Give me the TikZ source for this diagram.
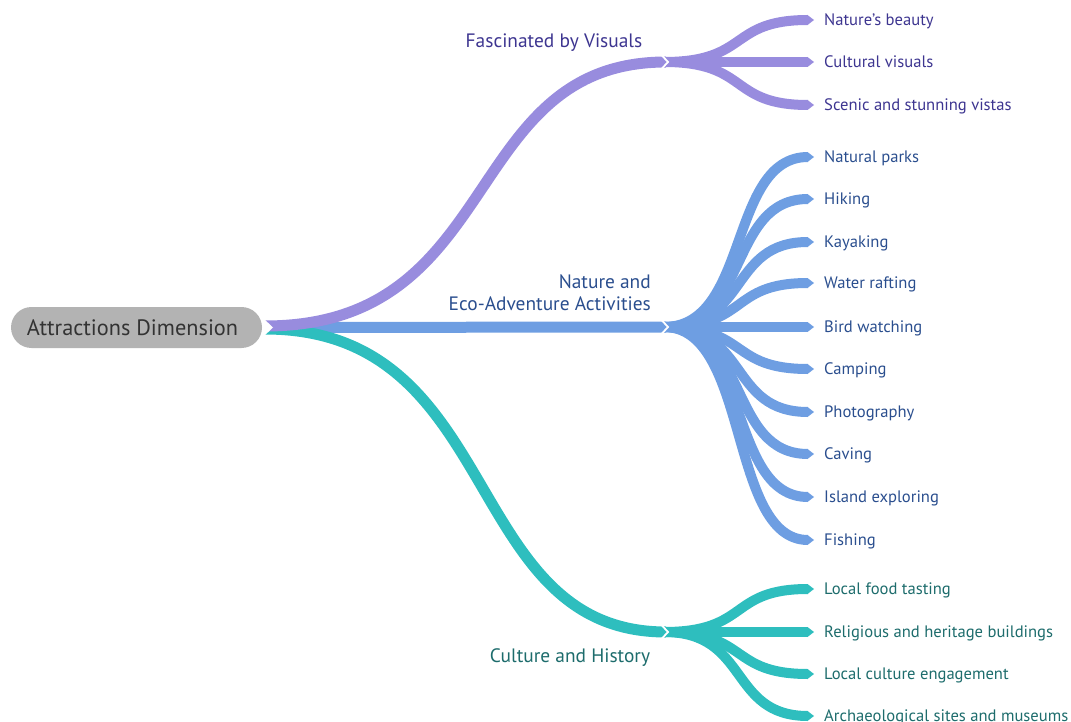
\documentclass[tikz,border=0pt]{standalone}
\usepackage{fontspec}
\setmainfont{PT Sans}
\usetikzlibrary{calc}
\definecolor{cP}{HTML}{988CDE}
\definecolor{cB}{HTML}{6E9EE2}
\definecolor{cT}{HTML}{2EBEBE}
\definecolor{tP}{HTML}{3D3590}
\definecolor{tB}{HTML}{2A4E8E}
\definecolor{tT}{HTML}{1D6C6C}
\definecolor{rootfill}{HTML}{B3B3B3}
\definecolor{roottext}{HTML}{333333}
\newcommand{\subbranch}[3]{%
  \draw[#1, line width=10pt] (#2) .. controls ($(#2)+(86,0)$) and ($(#3.west)+(-96,0)$) .. ($(#3.west)+(-16,0)$);
  \fill[#1] ($(#3.west)+(-16.5,-5)$) -- ($(#3.west)+(-10,0)$) -- ($(#3.west)+(-16.5,5)$) -- cycle;
}
\newcommand{\hubnotch}[1]{%
  \draw[white, line width=1.8pt] ($(#1)+(-2,-6.5)$) -- ($(#1)+(4,0)$) -- ($(#1)+(-2,6.5)$);
}
\begin{document}
\begin{tikzpicture}[x=1pt,y=-1pt,
  leaf/.style={anchor=west, inner sep=0pt, font=\fontsize{16.6}{19}\selectfont, text height=11.6pt, text depth=0pt},
  mlab/.style={inner sep=0pt, font=\fontsize{19.4}{22}\selectfont},
  rootnode/.style={fill=rootfill, text=roottext, rounded corners=20.5pt, minimum width=251pt, minimum height=41pt, inner sep=0pt, font=\fontsize{22.3}{26}\selectfont},
  mainbr/.style={line width=11pt}]
\useasboundingbox (0,0) rectangle (1071,722);

% root
\node[rootnode] (root) at (136.5,327.5) {\hspace*{-8pt}Attractions Dimension};

% coordinates
\coordinate (sP) at (265,326);
\coordinate (sB) at (265,327.5);
\coordinate (sT) at (265,329);
\coordinate (hv) at (664,62);
\coordinate (hn) at (664,327);
\coordinate (hc) at (664,632);

% leaves
\node[leaf, text=tP] (v1) at (824,20) {Nature's beauty};
\node[leaf, text=tP] (v2) at (824,62) {Cultural visuals};
\node[leaf, text=tP] (v3) at (824,105) {Scenic and stunning vistas};
\node[leaf, text=tB] (n1) at (824,157) {Natural parks};
\node[leaf, text=tB] (n2) at (824,199) {Hiking};
\node[leaf, text=tB] (n3) at (824,242) {Kayaking};
\node[leaf, text=tB] (n4) at (824,283) {Water rafting};
\node[leaf, text=tB] (n5) at (824,327) {Bird watching};
\node[leaf, text=tB] (n6) at (824,369) {Camping};
\node[leaf, text=tB] (n7) at (824,412) {Photography};
\node[leaf, text=tB] (n8) at (824,454) {Caving};
\node[leaf, text=tB] (n9) at (824,497) {Island exploring};
\node[leaf, text=tB] (n10) at (824,540) {Fishing};
\node[leaf, text=tT] (c1) at (824,589) {Local food tasting};
\node[leaf, text=tT] (c2) at (824,632) {Religious and heritage buildings};
\node[leaf, text=tT] (c3) at (824,674) {Local culture engagement};
\node[leaf, text=tT] (c4) at (824,716) {Archaeological sites and museums};

% main branches
\draw[cB, mainbr] (sB) -- ($(hn)+(2,0)$);
\draw[cT, mainbr] (sT) .. controls (505,329) and (460,632) .. ($(hc)+(2,0)$);
\draw[cP, mainbr] (sP) .. controls (505,326) and (460,62) .. ($(hv)+(2,0)$);
\fill[white] (263,318) -- (273,327.5) -- (263,337) -- cycle;

% sub branches
\foreach \l in {v1,v2,v3} {\subbranch{cP}{hv}{\l}}
\foreach \l in {n1,n2,n3,n4,n5,n6,n7,n8,n9,n10} {\subbranch{cB}{hn}{\l}}
\foreach \l in {c1,c2,c3,c4} {\subbranch{cT}{hc}{\l}}
\hubnotch{hv}
\hubnotch{hn}
\hubnotch{hc}

% main labels
\node[mlab, text=tP, text height=13.5pt, text depth=0pt] (lv) at (554,41) {Fascinated by Visuals};
\node[mlab, text=tB, align=right, anchor=east] (ln) at (651,293) {Nature and\\Eco-Adventure Activities};
\node[mlab, text=tT, text height=13.5pt, text depth=0pt] (lc) at (570,656) {Culture and History};
\end{tikzpicture}
\end{document}
